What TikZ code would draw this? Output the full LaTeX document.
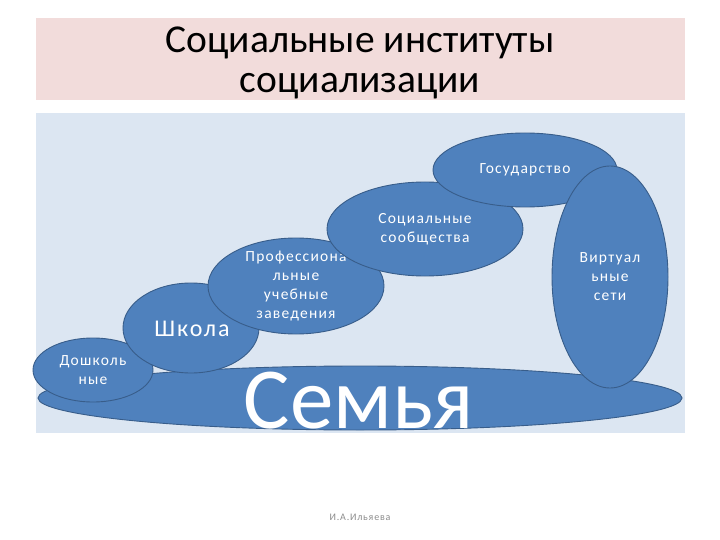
\documentclass[tikz,border=0pt]{standalone}
\usepackage{fontspec}
\setmainfont{Carlito}
\newfontfamily\spaced[LetterSpace=8]{Carlito}
\usetikzlibrary{shapes.geometric}
\definecolor{ellfill}{HTML}{4F81BD}
\definecolor{elldraw}{HTML}{385D8A}
\definecolor{titlebg}{HTML}{F2DCDB}
\definecolor{panelbg}{HTML}{DCE6F2}
\definecolor{footgray}{HTML}{8C8C8C}
\begin{document}
\begin{tikzpicture}[x=1pt,y=-1pt,
  inst/.style={ellipse, fill=ellfill, draw=elldraw, line width=0.9pt, inner sep=0pt},
  lbl/.style={text=white, align=center, inner sep=0pt, font=\spaced\fontsize{15.5}{19}\selectfont}]
\useasboundingbox (0,0) rectangle (720,540);
\fill[white] (0,0) rectangle (720,540);
\node[fill=titlebg, minimum width=649pt, minimum height=82pt, inner sep=0pt, anchor=north west] (titlebox) at (36,18) {};
\node[align=center, inner sep=0pt, font=\fontsize{39.5}{39.5}\selectfont] (title) at (360,63) {Социальные институты\\социализации};
\node[fill=panelbg, minimum width=649pt, minimum height=320pt, inner sep=0pt, anchor=north west] (panel) at (36,113) {};
\node[inst, minimum width=644pt, minimum height=64pt] (semya) at (360,398) {};
\node[text=white, inner sep=0pt, font=\fontsize{87}{87}\selectfont] (semyat) at (359,401) {Семья};
\node[inst, minimum width=120pt, minimum height=64pt] (doshk) at (93,370) {};
\node[lbl] (doshkt) at (doshk.center) {Дошколь\\ные};
\node[inst, minimum width=136pt, minimum height=90pt] (shkola) at (191,328) {};
\node[lbl, font=\spaced\fontsize{24}{26}\selectfont] (shkolat) at (192,329) {Школа};
\node[inst, minimum width=176pt, minimum height=96pt] (prof) at (296,286) {};
\node[lbl] (proft) at (prof.center) {Профессиона\\льные\\учебные\\заведения};
\node[inst, minimum width=196pt, minimum height=94pt] (soc) at (425,229) {};
\node[lbl] (soct) at (soc.center) {Социальные\\сообщества};
\node[inst, minimum width=184pt, minimum height=74pt] (gos) at (525,170) {};
\node[lbl] (gost) at (gos.center) {Государство};
\node[inst, minimum width=116pt, minimum height=222pt] (virt) at (610,277) {};
\node[lbl] (virtt) at (virt.center) {Виртуал\\ьные\\сети};
\node[text=footgray, inner sep=0pt, font=\spaced\fontsize{10}{12}\selectfont] (foot) at (360,517) {И.А.Ильяева};
\end{tikzpicture}
\end{document}
